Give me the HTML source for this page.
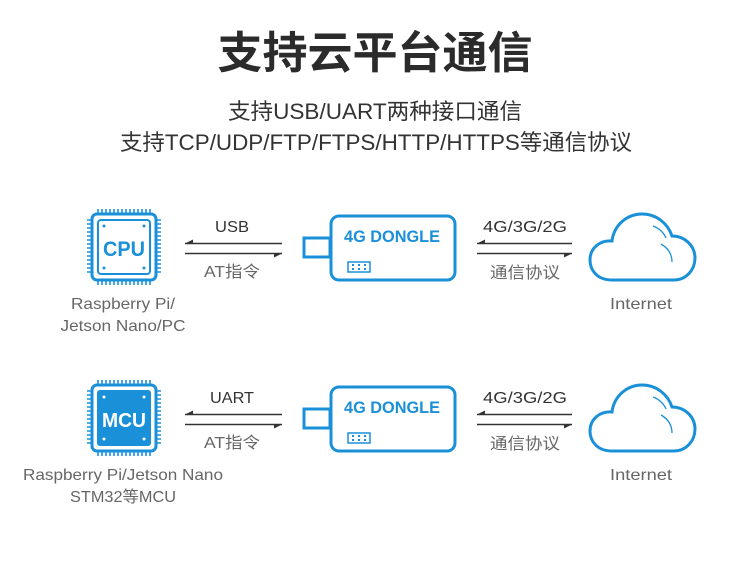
<!DOCTYPE html>
<html><head><meta charset="utf-8"><style>
html,body{margin:0;padding:0;background:#fff}
svg{display:block}
text{font-family:"Liberation Sans","Noto Sans CJK SC",sans-serif}
</style></head><body>
<svg width="750" height="562" viewBox="0 0 750 562" xmlns="http://www.w3.org/2000/svg">
<defs>
<g id="chip">
  <rect x="92" y="214" width="64" height="66" rx="5" fill="none" stroke="#1a90d9" stroke-width="3"/>
  <g stroke="#1a90d9" stroke-width="1.6">
    <path d="M98 209v5M102 209v5M106 209v5M110 209v5M114 209v5M118 209v5M122 209v5M126 209v5M130 209v5M134 209v5M138 209v5M142 209v5M146 209v5M150 209v5"/>
    <path d="M98 280v5M102 280v5M106 280v5M110 280v5M114 280v5M118 280v5M122 280v5M126 280v5M130 280v5M134 280v5M138 280v5M142 280v5M146 280v5M150 280v5"/>
    <path d="M87 220h5M87 224h5M87 228h5M87 232h5M87 236h5M87 240h5M87 244h5M87 248h5M87 252h5M87 256h5M87 260h5M87 264h5M87 268h5M87 272h5"/>
    <path d="M156 220h5M156 224h5M156 228h5M156 232h5M156 236h5M156 240h5M156 244h5M156 248h5M156 252h5M156 256h5M156 260h5M156 264h5M156 268h5M156 272h5"/>
  </g>
</g>
<g id="dongle">
  <rect x="304" y="238" width="26" height="19" fill="none" stroke="#1a90d9" stroke-width="3"/>
  <rect x="331" y="216" width="124" height="64" rx="8" fill="#fff" stroke="#1a90d9" stroke-width="3"/>
  <text x="392" y="242" text-anchor="middle" font-size="17" font-weight="bold" fill="#1a90d9" textLength="96" lengthAdjust="spacingAndGlyphs">4G DONGLE</text>
  <rect x="348" y="262" width="22" height="10" fill="none" stroke="#1a90d9" stroke-width="1.5"/>
  <g fill="#1a90d9"><rect x="352" y="264" width="2" height="2"/><rect x="358" y="264" width="2" height="2"/><rect x="364" y="264" width="2" height="2"/><rect x="352" y="268" width="2" height="2"/><rect x="358" y="268" width="2" height="2"/><rect x="364" y="268" width="2" height="2"/></g>
</g>
<g id="arrows1">
  <path d="M185 243.5H282M185 253.5H282" stroke="#333" stroke-width="1.5"/>
  <path d="M185 243.5L193 239.5V243.5Z M282 253.5L274 257.5V253.5Z" fill="#333"/>
</g>
<g id="arrows2">
  <path d="M477 243.5H572M477 253.5H572" stroke="#333" stroke-width="1.5"/>
  <path d="M477 243.5L485 239.5V243.5Z M572 253.5L564 257.5V253.5Z" fill="#333"/>
</g>
<g id="cloud">
  <path d="M612 280 C597 280 590 270 590 260 C590 248 600 240 612 241 C614 225 627 214 642 214 C657 214 668 224 672 236 C685 236 695 246 695 258 C695 270 686 280 674 280 Z" fill="none" stroke="#1a90d9" stroke-width="3"/>
  <path d="M653 226 C659 228 664 233 666 238 M661 244 C668 248 672 254 672 262" fill="none" stroke="#1a90d9" stroke-width="1.3"/>
</g>
</defs>

<text x="375" y="68" text-anchor="middle" font-size="44" font-weight="bold" fill="#2b2b2b" textLength="315" lengthAdjust="spacingAndGlyphs">支持云平台通信</text>
<text x="375" y="119" text-anchor="middle" font-size="22" fill="#333" textLength="294" lengthAdjust="spacingAndGlyphs">支持USB/UART两种接口通信</text>
<text x="376" y="150" text-anchor="middle" font-size="22" fill="#333" textLength="512" lengthAdjust="spacingAndGlyphs">支持TCP/UDP/FTP/FTPS/HTTP/HTTPS等通信协议</text>

<!-- Row 1 -->
<use href="#chip"/>
<rect x="98" y="220" width="52" height="54" rx="3" fill="none" stroke="#1a90d9" stroke-width="2"/>
<g fill="#1a90d9"><circle cx="104" cy="226" r="1.5"/><circle cx="144" cy="226" r="1.5"/><circle cx="104" cy="268" r="1.5"/><circle cx="144" cy="268" r="1.5"/></g>
<text x="124" y="256" text-anchor="middle" font-size="21" font-weight="bold" fill="#1a90d9" textLength="42" lengthAdjust="spacingAndGlyphs">CPU</text>
<use href="#arrows1"/>
<text x="232" y="232" text-anchor="middle" font-size="16" fill="#333" textLength="34" lengthAdjust="spacingAndGlyphs">USB</text>
<text x="232" y="277" text-anchor="middle" font-size="16" fill="#666" textLength="56" lengthAdjust="spacingAndGlyphs">AT指令</text>
<use href="#dongle"/>
<use href="#arrows2"/>
<text x="525" y="232" text-anchor="middle" font-size="16" fill="#333" textLength="84" lengthAdjust="spacingAndGlyphs">4G/3G/2G</text>
<text x="525" y="278" text-anchor="middle" font-size="16" fill="#666" textLength="70" lengthAdjust="spacingAndGlyphs">通信协议</text>
<use href="#cloud"/>
<text x="641" y="309" text-anchor="middle" font-size="16" fill="#666" textLength="62" lengthAdjust="spacingAndGlyphs">Internet</text>
<text x="123" y="309" text-anchor="middle" font-size="16" fill="#666" textLength="104" lengthAdjust="spacingAndGlyphs">Raspberry Pi/</text>
<text x="123" y="331" text-anchor="middle" font-size="16" fill="#666" textLength="125" lengthAdjust="spacingAndGlyphs">Jetson Nano/PC</text>

<!-- Row 2 -->
<g transform="translate(0,171)">
<use href="#chip"/>
<rect x="97" y="219" width="54" height="56" rx="3" fill="#1a90d9"/>
<g fill="#fff"><circle cx="104" cy="226" r="1.5"/><circle cx="144" cy="226" r="1.5"/><circle cx="104" cy="268" r="1.5"/><circle cx="144" cy="268" r="1.5"/></g>
<text x="124" y="256" text-anchor="middle" font-size="20" font-weight="bold" fill="#fff" textLength="44" lengthAdjust="spacingAndGlyphs">MCU</text>
<use href="#arrows1"/>
<text x="232" y="232" text-anchor="middle" font-size="16" fill="#333" textLength="44" lengthAdjust="spacingAndGlyphs">UART</text>
<text x="232" y="277" text-anchor="middle" font-size="16" fill="#666" textLength="56" lengthAdjust="spacingAndGlyphs">AT指令</text>
<use href="#dongle"/>
<use href="#arrows2"/>
<text x="525" y="232" text-anchor="middle" font-size="16" fill="#333" textLength="84" lengthAdjust="spacingAndGlyphs">4G/3G/2G</text>
<text x="525" y="278" text-anchor="middle" font-size="16" fill="#666" textLength="70" lengthAdjust="spacingAndGlyphs">通信协议</text>
<use href="#cloud"/>
<text x="641" y="309" text-anchor="middle" font-size="16" fill="#666" textLength="62" lengthAdjust="spacingAndGlyphs">Internet</text>
<text x="123" y="309" text-anchor="middle" font-size="16" fill="#666" textLength="200" lengthAdjust="spacingAndGlyphs">Raspberry Pi/Jetson Nano</text>
<text x="123" y="331" text-anchor="middle" font-size="16" fill="#666" textLength="106" lengthAdjust="spacingAndGlyphs">STM32等MCU</text>
</g>
</svg>
</body></html>
